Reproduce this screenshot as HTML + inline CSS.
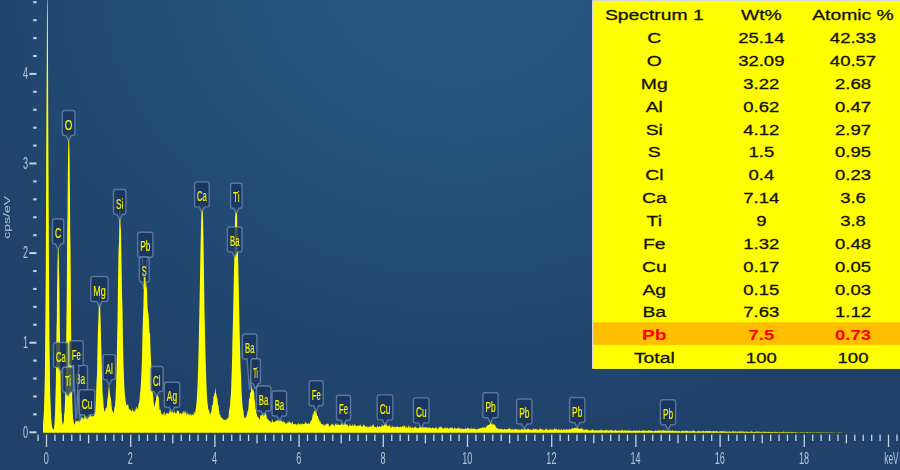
<!DOCTYPE html>
<html><head><meta charset="utf-8"><title>EDS Spectrum</title>
<style>
html,body{margin:0;padding:0;background:#20426a;}
body{width:900px;height:470px;overflow:hidden;font-family:"Liberation Sans",sans-serif;}
svg{display:block;font-family:"Liberation Sans",sans-serif;}
.lb{fill:rgba(26,52,94,0.8);stroke:rgba(135,162,196,0.58);stroke-width:1.4;}
.lt{fill:#f8f400;font-size:15.4px;text-anchor:middle;stroke:#f8f400;stroke-width:0.2;}
.tk{fill:#cad3e0;}
.al{fill:#b9c5d6;font-size:15.6px;}
.tt{fill:#141200;font-size:15.0px;stroke:#141200;stroke-width:0.28;text-anchor:middle;}
.pb{fill:#ff0000;font-weight:bold;stroke:none;}
</style></head><body>
<svg width="900" height="470" viewBox="0 0 900 470">
<defs>
<radialGradient id="bg" cx="0" cy="0" r="1" gradientUnits="userSpaceOnUse" gradientTransform="translate(458,-25) scale(560,470)">
<stop offset="0" stop-color="#275984"/><stop offset="0.45" stop-color="#244f7b"/><stop offset="0.8" stop-color="#214770"/><stop offset="1" stop-color="#20426a"/>
</radialGradient>
</defs>
<rect width="900" height="470" fill="url(#bg)"/>
<path d="M43,432.7L43.0,424.5L43.2,421.8L43.5,418.3L43.8,414.0L44.0,408.4L44.2,401.2L44.5,391.7L44.8,378.8L45.0,361.1L45.2,336.9L45.5,304.7L45.8,263.5L46.0,213.7L46.2,157.9L46.5,100.9L46.8,49.4L47.0,10.6L47.2,-3.0L47.5,-3.0L47.8,17.0L48.0,58.9L48.2,112.1L48.5,169.3L48.8,224.2L49.0,272.4L49.2,311.8L49.5,342.2L49.8,364.9L50.0,381.5L50.2,393.5L50.5,402.5L50.8,409.3L51.0,414.5L51.2,418.7L51.5,421.9L51.8,424.4L52.0,426.3L52.2,427.0L52.5,428.9L52.8,428.6L53.0,429.1L53.2,429.4L53.5,429.7L53.8,429.0L54.0,427.9L54.2,425.4L54.5,423.5L54.8,417.3L55.0,414.9L55.2,407.5L55.5,395.5L55.8,384.3L56.0,369.6L56.2,350.3L56.5,329.7L56.8,318.8L57.0,289.8L57.2,280.3L57.5,262.5L57.8,252.4L58.0,235.9L58.2,246.8L58.5,249.3L58.8,258.4L59.0,271.7L59.2,276.0L59.5,295.7L59.8,324.7L60.0,341.3L60.2,365.3L60.5,367.7L60.8,389.9L61.0,395.5L61.2,406.7L61.5,413.3L61.8,413.1L62.0,420.6L62.2,420.9L62.5,423.5L62.8,425.5L63.0,424.4L63.2,421.2L63.5,424.6L63.8,421.4L64.0,417.5L64.2,413.6L64.5,412.5L64.8,407.6L65.0,401.8L65.2,391.9L65.5,381.2L65.8,372.6L66.0,358.4L66.2,340.7L66.5,315.3L66.8,292.5L67.0,258.8L67.2,231.7L67.5,214.5L67.8,178.8L68.0,156.0L68.2,150.1L68.5,133.4L68.8,129.5L69.0,129.3L69.2,141.6L69.5,151.6L69.8,179.7L70.0,203.5L70.2,233.1L70.5,248.7L70.8,277.8L71.0,313.7L71.2,337.7L71.5,355.7L71.8,374.6L72.0,385.9L72.2,398.4L72.5,406.6L72.8,414.0L73.0,416.5L73.2,419.6L73.5,420.1L73.8,423.6L74.0,423.0L74.2,424.2L74.5,424.8L74.8,423.8L75.0,423.7L75.2,420.8L75.5,422.7L75.8,420.8L76.0,419.3L76.2,421.9L76.5,419.9L76.8,422.2L77.0,419.5L77.2,420.8L77.5,420.9L77.8,421.1L78.0,422.9L78.2,419.7L78.5,421.5L78.8,422.0L79.0,419.1L79.2,423.6L79.5,421.4L79.8,420.5L80.0,419.9L80.5,420.9L81.0,417.5L81.5,418.5L82.0,417.1L82.5,419.0L83.0,416.6L83.5,418.9L84.0,419.8L84.5,415.3L85.0,414.5L85.5,417.3L86.0,416.2L86.5,415.8L87.0,415.9L87.5,417.6L88.0,416.7L88.5,417.3L89.0,417.2L89.5,416.9L90.0,413.1L90.5,415.0L91.0,416.7L91.5,415.5L92.0,417.6L92.5,415.8L93.0,416.3L93.5,415.9L94.0,416.2L94.5,413.1L95.0,412.7L95.5,407.0L96.0,396.8L96.5,382.5L97.0,374.1L97.5,347.8L98.0,328.4L98.5,317.6L99.0,294.9L99.5,298.1L100.0,304.1L100.5,316.2L101.0,335.7L101.5,355.7L102.0,372.9L102.5,391.8L103.0,397.1L103.5,404.5L104.0,409.5L104.5,411.2L105.0,412.0L105.5,408.9L106.0,407.8L106.5,408.2L107.0,404.7L107.5,398.4L108.0,395.8L108.5,388.8L109.0,383.5L109.5,389.3L110.0,394.4L110.5,397.2L111.0,399.1L111.5,405.3L112.0,409.8L112.5,410.8L113.0,412.3L113.5,412.8L114.0,411.3L114.5,406.9L115.0,406.3L115.5,398.5L116.0,386.8L116.5,371.7L117.0,346.1L117.5,321.4L118.0,285.0L118.5,251.2L119.0,241.8L119.5,212.4L120.0,203.7L120.5,224.6L121.0,231.6L121.5,260.4L122.0,293.6L122.5,308.4L123.0,343.5L123.5,364.0L124.0,378.5L124.5,389.6L125.0,395.6L125.5,400.0L126.0,403.3L126.5,405.0L127.0,405.6L127.5,405.1L128.0,403.2L128.5,406.7L129.0,409.0L129.5,409.0L130.0,409.8L130.5,410.1L131.0,410.2L131.5,411.0L132.0,411.2L132.5,407.8L133.0,411.2L133.5,410.7L134.0,411.8L134.5,411.8L135.0,409.1L135.5,411.0L136.0,406.2L136.5,407.1L137.0,410.0L137.5,408.6L138.0,408.1L138.5,404.2L139.0,403.1L139.5,400.6L140.0,393.8L140.5,390.4L141.0,381.5L141.5,371.9L142.0,358.6L142.5,333.9L143.0,317.9L143.5,301.8L144.0,279.6L144.5,276.0L145.0,276.4L145.5,287.1L146.0,282.4L146.5,286.6L147.0,288.8L147.5,307.0L148.0,311.8L148.5,313.3L149.0,323.0L149.5,333.4L150.0,332.4L150.5,349.7L151.0,359.6L151.5,369.9L152.0,381.8L152.5,391.2L153.0,394.3L153.5,399.9L154.0,405.4L154.5,406.8L155.0,404.1L155.5,401.9L156.0,399.6L156.5,391.6L157.0,394.2L157.5,394.1L158.0,396.2L158.5,396.1L159.0,400.2L159.5,410.1L160.0,410.1L160.5,408.8L161.0,413.1L161.5,413.6L162.0,414.2L162.5,414.0L163.0,415.8L163.5,414.0L164.0,411.5L164.5,412.0L165.0,416.5L165.5,414.6L166.0,413.3L166.5,413.4L167.0,413.4L167.5,412.8L168.0,413.8L168.5,413.3L169.0,413.7L169.5,411.6L170.0,409.0L170.5,412.7L171.0,408.7L171.5,412.9L172.0,411.1L172.5,412.6L173.0,411.2L173.5,413.1L174.0,413.3L174.5,410.2L175.0,412.9L175.5,413.6L176.0,412.6L176.5,414.0L177.0,410.3L177.5,410.5L178.0,411.5L178.5,410.7L179.0,411.6L179.5,413.4L180.0,414.6L180.5,412.8L181.0,413.2L181.5,414.6L182.0,413.0L182.5,413.5L183.0,410.7L183.5,411.2L184.0,414.3L184.5,410.6L185.0,414.3L185.5,410.5L186.0,412.3L186.5,416.1L187.0,411.0L187.5,415.2L188.0,412.2L188.5,415.5L189.0,413.4L189.5,414.3L190.0,415.7L190.5,414.4L191.0,413.4L191.5,416.1L192.0,413.7L192.5,414.6L193.0,415.4L193.5,414.7L194.0,411.4L194.5,412.5L195.0,414.3L195.5,410.3L196.0,407.6L196.5,403.2L197.0,396.0L197.5,386.5L198.0,371.9L198.5,353.9L199.0,328.0L199.5,305.2L200.0,276.6L200.5,249.4L201.0,226.4L201.5,210.2L202.0,205.8L202.5,203.0L203.0,217.9L203.5,242.3L204.0,276.3L204.5,311.4L205.0,332.2L205.5,355.2L206.0,371.2L206.5,385.5L207.0,396.2L207.5,403.3L208.0,406.4L208.5,410.9L209.0,408.7L209.5,412.4L210.0,415.2L210.5,413.1L211.0,412.8L211.5,410.8L212.0,405.1L212.5,405.5L213.0,403.9L213.5,395.6L214.0,396.7L214.5,393.3L215.0,392.8L215.5,387.1L216.0,392.8L216.5,394.9L217.0,397.7L217.5,399.2L218.0,405.6L218.5,405.1L219.0,411.0L219.5,413.6L220.0,415.3L220.5,414.7L221.0,418.2L221.5,417.3L222.0,417.2L222.5,419.2L223.0,418.5L223.5,419.7L224.0,419.9L224.5,419.8L225.0,420.3L225.5,420.5L226.0,418.2L226.5,420.3L227.0,418.0L227.5,418.7L228.0,418.7L228.5,417.0L229.0,410.8L229.5,408.6L230.0,406.0L230.5,398.1L231.0,393.1L231.5,377.8L232.0,364.0L232.5,337.0L233.0,320.3L233.5,294.5L234.0,271.6L234.5,248.8L235.0,220.1L235.5,212.1L236.0,207.3L236.5,209.0L237.0,214.3L237.5,240.7L238.0,252.5L238.5,276.8L239.0,301.2L239.5,325.2L240.0,346.0L240.5,365.5L241.0,375.5L241.5,389.6L242.0,399.1L242.5,405.2L243.0,409.4L243.5,411.3L244.0,416.7L244.5,418.1L245.0,417.4L245.5,417.6L246.0,418.0L246.5,415.7L247.0,414.5L247.5,411.2L248.0,411.1L248.5,406.7L249.0,399.1L249.5,399.0L250.0,393.7L250.5,391.9L251.0,391.7L251.5,383.7L252.0,388.2L252.5,390.4L253.0,387.7L253.5,392.1L254.0,390.5L254.5,399.5L255.0,401.2L255.5,409.0L256.0,409.6L256.5,413.7L257.0,414.8L257.5,417.0L258.0,416.8L258.5,417.2L259.0,419.6L259.5,419.3L260.0,418.5L260.5,414.6L261.0,416.1L261.5,415.3L262.0,414.5L262.5,412.6L263.0,412.8L263.5,411.5L264.0,411.5L264.5,412.6L265.0,412.6L265.5,413.2L266.0,414.5L266.5,415.2L267.0,419.4L267.5,418.2L268.0,419.4L268.5,420.0L269.0,420.7L269.5,420.7L270.0,421.6L270.5,421.5L271.0,423.0L271.5,422.0L272.0,420.8L272.5,419.2L273.0,422.4L273.5,422.3L274.0,422.1L274.5,422.1L275.0,421.2L275.5,421.5L276.0,420.9L276.5,420.7L277.0,420.3L277.5,420.1L278.0,420.8L278.5,421.5L279.0,417.6L279.5,417.8L280.0,420.8L280.5,421.0L281.0,420.1L281.5,420.9L282.0,420.7L282.5,422.3L283.0,422.5L283.5,420.6L284.0,422.4L284.5,421.6L285.0,422.9L285.5,423.6L286.0,423.7L286.5,423.8L287.0,421.7L287.5,422.5L288.0,423.6L288.5,422.3L289.0,421.1L289.5,421.4L290.0,422.7L290.5,423.3L291.0,422.0L291.5,424.2L292.0,422.2L292.5,421.2L293.0,424.2L293.5,424.3L294.0,424.0L294.5,424.2L295.0,424.4L295.5,423.4L296.0,424.2L296.5,424.1L297.0,425.9L297.5,424.1L298.0,424.5L298.5,422.3L299.0,424.2L299.5,424.5L300.0,424.3L300.5,424.4L301.0,423.0L301.5,424.7L302.0,423.2L302.5,423.6L303.0,424.5L303.5,424.1L304.0,424.1L304.5,424.3L305.0,421.7L305.5,422.1L306.0,424.2L306.5,421.9L307.0,424.6L307.5,423.8L308.0,424.1L308.5,422.6L309.0,424.0L309.5,423.4L310.0,423.7L310.5,420.9L311.0,421.5L311.5,420.0L312.0,418.7L312.5,416.3L313.0,412.3L313.5,415.4L314.0,410.2L314.5,411.3L315.0,411.1L315.5,412.5L316.0,408.9L316.5,413.3L317.0,415.7L317.5,415.7L318.0,416.1L318.5,419.8L319.0,418.2L319.5,421.6L320.0,421.4L320.5,421.6L321.0,423.7L321.5,423.9L322.0,424.6L322.5,423.9L323.0,425.0L323.5,424.9L324.0,423.3L324.5,426.6L325.0,425.1L325.5,424.0L326.0,425.5L326.5,423.6L327.0,424.2L327.5,423.6L328.0,423.4L328.5,424.0L329.0,426.8L329.5,426.4L330.0,424.8L330.5,426.3L331.0,425.1L331.5,423.8L332.0,425.1L332.5,423.6L333.0,424.3L333.5,425.1L334.0,425.3L334.5,426.7L335.0,424.5L335.5,423.1L336.0,425.1L336.5,424.8L337.0,422.6L337.5,425.0L338.0,425.2L338.5,423.5L339.0,425.0L339.5,424.9L340.0,424.7L340.5,424.6L341.0,424.9L341.5,422.0L342.0,425.4L342.5,423.9L343.0,423.7L343.5,423.9L344.0,421.4L344.5,422.5L345.0,425.3L345.5,422.6L346.0,424.4L346.5,423.9L347.0,425.0L347.5,424.9L348.0,424.8L348.5,427.0L349.0,426.3L349.5,425.1L350.0,423.7L350.5,425.6L351.0,425.9L351.5,425.8L352.0,426.1L352.5,423.4L353.0,425.9L353.5,425.5L354.0,426.0L354.5,423.4L355.0,426.0L355.5,424.3L356.0,426.1L356.5,426.2L357.0,426.3L357.5,426.0L358.0,424.7L358.5,426.0L359.0,424.7L359.5,425.8L360.0,426.0L360.5,423.9L361.0,425.7L361.5,426.3L362.0,426.6L362.5,426.4L363.0,426.5L363.5,424.2L364.0,424.7L364.5,425.1L365.0,426.7L365.5,426.7L366.0,426.5L366.5,426.6L367.0,426.6L367.5,426.3L368.0,427.9L368.5,426.5L369.0,426.7L369.5,426.8L370.0,426.9L370.5,425.0L371.0,426.7L371.5,426.6L372.0,426.3L372.5,425.6L373.0,424.3L373.5,424.6L374.0,425.8L374.5,427.0L375.0,427.0L375.5,426.9L376.0,427.0L376.5,428.3L377.0,425.7L377.5,425.6L378.0,427.0L378.5,427.2L379.0,426.5L379.5,426.2L380.0,426.5L380.5,426.4L381.0,427.3L381.5,426.4L382.0,423.4L382.5,425.9L383.0,425.5L383.5,425.7L384.0,425.7L384.5,423.7L385.0,422.9L385.5,425.7L386.0,423.5L386.5,424.2L387.0,426.0L387.5,425.8L388.0,425.7L388.5,425.4L389.0,426.7L389.5,424.2L390.0,426.0L390.5,427.0L391.0,428.2L391.5,427.2L392.0,424.8L392.5,427.3L393.0,426.0L393.5,427.0L394.0,427.4L394.5,427.3L395.0,426.1L395.5,427.4L396.0,427.2L396.5,427.5L397.0,426.1L397.5,426.2L398.0,426.7L398.5,427.2L399.0,427.1L399.5,427.2L400.0,427.4L400.5,426.6L401.0,426.2L401.5,427.6L402.0,427.0L402.5,426.3L403.0,425.5L403.5,425.7L404.0,427.6L404.5,425.5L405.0,425.8L405.5,428.4L406.0,425.8L406.5,427.3L407.0,427.7L407.5,427.6L408.0,427.7L408.5,425.5L409.0,425.6L409.5,427.6L410.0,428.6L410.5,425.9L411.0,427.6L411.5,427.6L412.0,428.6L412.5,426.8L413.0,428.3L413.5,428.5L414.0,426.6L414.5,427.6L415.0,427.4L415.5,425.8L416.0,428.2L416.5,427.7L417.0,427.2L417.5,429.1L418.0,427.3L418.5,428.5L419.0,427.5L419.5,426.9L420.0,426.3L420.5,427.5L421.0,427.6L421.5,425.2L422.0,427.3L422.5,427.1L423.0,427.6L423.5,427.6L424.0,426.7L424.5,427.6L425.0,427.8L425.5,427.0L426.0,427.4L426.5,427.3L427.0,427.4L427.5,427.4L428.0,428.2L428.5,427.1L429.0,428.6L429.5,427.3L430.0,427.8L430.5,427.1L431.0,429.1L431.5,428.3L432.0,427.8L432.5,427.0L433.0,428.3L433.5,428.2L434.0,428.0L434.5,428.4L435.0,428.4L435.5,426.7L436.0,427.9L436.5,427.0L437.0,428.4L437.5,429.7L438.0,428.8L438.5,428.6L439.0,427.2L439.5,427.3L440.0,426.6L440.5,426.8L441.0,428.0L441.5,426.6L442.0,427.3L442.5,428.6L443.0,428.2L443.5,428.4L444.0,428.6L444.5,428.5L445.0,426.6L445.5,428.4L446.0,427.4L446.5,428.6L447.0,428.3L447.5,426.9L448.0,428.6L448.5,428.7L449.0,428.6L449.5,428.3L450.0,427.9L450.5,427.3L451.0,428.6L451.5,427.6L452.0,427.3L452.5,427.5L453.0,428.8L453.5,428.8L454.0,429.0L454.5,427.0L455.0,428.1L455.5,428.8L456.0,427.9L456.5,428.9L457.0,428.3L457.5,428.4L458.0,427.3L458.5,428.7L459.0,427.2L459.5,428.1L460.0,428.8L460.5,428.9L461.0,428.7L461.5,428.7L462.0,428.3L462.5,428.8L463.0,428.9L463.5,428.9L464.0,428.9L464.5,429.0L465.0,428.9L465.5,427.7L466.0,428.3L466.5,429.0L467.0,428.8L467.5,427.0L468.0,428.9L468.5,427.8L469.0,428.5L469.5,428.8L470.0,428.7L470.5,429.8L471.0,426.9L471.5,428.7L472.0,429.0L472.5,428.4L473.0,429.0L473.5,428.3L474.0,429.1L474.5,428.5L475.0,428.8L475.5,429.5L476.0,428.3L476.5,430.3L477.0,429.0L477.5,429.1L478.0,429.1L478.5,428.8L479.0,428.7L479.5,428.1L480.0,429.1L480.5,427.6L481.0,428.6L481.5,427.4L482.0,428.7L482.5,427.1L483.0,427.1L483.5,428.6L484.0,426.5L484.5,428.1L485.0,427.3L485.5,428.2L486.0,426.6L486.5,426.7L487.0,426.2L487.5,425.2L488.0,425.0L488.5,424.9L489.0,424.6L489.5,424.3L490.0,424.6L490.5,421.2L491.0,423.5L491.5,424.4L492.0,422.0L492.5,425.0L493.0,424.3L493.5,423.5L494.0,425.7L494.5,423.9L495.0,424.9L495.5,425.7L496.0,427.6L496.5,427.8L497.0,428.5L497.5,428.7L498.0,427.7L498.5,429.1L499.0,429.2L499.5,429.3L500.0,428.3L500.5,429.5L501.0,428.7L501.5,428.4L502.0,429.5L502.5,429.6L503.0,429.6L503.5,429.6L504.0,429.1L504.5,429.1L505.0,428.7L505.5,430.1L506.0,429.0L506.5,428.9L507.0,429.6L507.5,429.5L508.0,428.8L508.5,428.7L509.0,428.4L509.5,428.8L510.0,427.9L510.5,429.4L511.0,429.7L511.5,429.5L512.0,428.4L512.5,429.6L513.0,429.4L513.5,429.7L514.0,429.4L514.5,429.5L515.0,429.3L515.5,429.1L516.0,428.9L516.5,428.8L517.0,430.4L517.5,429.7L518.0,428.7L518.5,429.7L519.0,429.4L519.5,429.4L520.0,430.6L520.5,429.5L521.0,429.5L521.5,429.1L522.0,429.1L522.5,429.5L523.0,429.4L523.5,429.7L524.0,428.9L524.5,427.8L525.0,428.8L525.5,429.4L526.0,429.4L526.5,429.5L527.0,429.5L527.5,429.1L528.0,428.2L528.5,429.0L529.0,429.3L529.5,429.7L530.0,429.7L530.5,429.2L531.0,429.8L531.5,430.2L532.0,429.6L532.5,429.7L533.0,429.6L533.5,428.1L534.0,429.8L534.5,429.5L535.0,428.8L535.5,429.5L536.0,428.6L536.5,429.9L537.0,429.0L537.5,429.9L538.0,429.8L538.5,429.9L539.0,429.5L539.5,428.8L540.0,429.6L540.5,428.4L541.0,428.6L541.5,429.8L542.0,429.7L542.5,429.0L543.0,429.5L543.5,430.7L544.0,429.7L544.5,430.6L545.0,429.7L545.5,428.5L546.0,429.7L546.5,428.3L547.0,428.9L547.5,429.7L548.0,429.9L548.5,429.9L549.0,429.9L549.5,429.7L550.0,429.8L550.5,428.6L551.0,429.6L551.5,429.7L552.0,429.5L552.5,429.8L553.0,429.1L553.5,429.9L554.0,429.7L554.5,428.2L555.0,428.2L555.5,429.6L556.0,429.1L556.5,429.0L557.0,429.8L557.5,429.9L558.0,429.6L558.5,428.8L559.0,429.9L559.5,429.7L560.0,429.5L560.5,429.9L561.0,429.3L561.5,428.8L562.0,430.4L562.5,430.0L563.0,429.7L563.5,428.5L564.0,429.9L564.5,429.7L565.0,429.4L565.5,429.8L566.0,429.8L566.5,428.9L567.0,428.9L567.5,429.8L568.0,429.9L568.5,429.5L569.0,429.2L569.5,428.6L570.0,429.9L570.5,429.2L571.0,429.2L571.5,428.1L572.0,429.5L572.5,427.0L573.0,429.5L573.5,428.1L574.0,428.6L574.5,428.0L575.0,427.4L575.5,428.1L576.0,428.0L576.5,427.4L577.0,429.5L577.5,427.0L578.0,428.3L578.5,428.6L579.0,428.7L579.5,428.7L580.0,429.0L580.5,428.4L581.0,428.2L581.5,429.0L582.0,428.1L582.5,428.9L583.0,429.7L583.5,429.6L584.0,430.0L584.5,430.2L585.0,429.0L585.5,430.3L586.0,429.1L586.5,429.6L587.0,429.6L587.5,430.3L588.0,429.7L588.5,430.3L589.0,429.9L589.5,430.9L590.0,430.4L590.5,429.8L591.0,430.4L591.5,430.5L592.0,429.3L592.5,429.7L593.0,429.6L593.5,430.0L594.0,430.5L594.5,430.4L595.0,430.5L595.5,430.6L596.0,430.1L596.5,430.6L597.0,430.6L597.5,429.9L598.0,430.5L598.5,430.7L599.0,430.5L599.5,430.0L600.0,430.1L600.5,430.8L601.0,429.3L601.5,430.2L602.0,429.6L602.5,430.4L603.0,431.1L603.5,430.4L604.0,430.2L604.5,430.4L605.0,430.0L605.5,430.3L606.0,429.9L606.5,430.6L607.0,429.6L607.5,430.6L608.0,430.7L608.5,430.3L609.0,430.7L609.5,430.4L610.0,429.9L610.5,430.5L611.0,430.3L611.5,429.4L612.0,430.6L612.5,430.7L613.0,430.7L613.5,430.7L614.0,429.9L614.5,430.6L615.0,430.7L615.5,430.0L616.0,429.4L616.5,430.8L617.0,431.0L617.5,430.8L618.0,430.8L618.5,430.6L619.0,430.8L619.5,430.0L620.0,430.9L620.5,430.4L621.0,431.2L621.5,430.2L622.0,429.6L622.5,429.5L623.0,430.8L623.5,430.8L624.0,430.8L624.5,430.3L625.0,429.8L625.5,431.0L626.0,430.6L626.5,430.8L627.0,430.8L627.5,430.8L628.0,429.5L628.5,431.0L629.0,430.8L629.5,430.2L630.0,430.8L630.5,430.6L631.0,430.8L631.5,430.9L632.0,430.9L632.5,430.9L633.0,430.6L633.5,430.8L634.0,430.4L634.5,431.1L635.0,430.0L635.5,430.9L636.0,430.9L636.5,429.9L637.0,430.9L637.5,430.8L638.0,430.3L638.5,431.0L639.0,431.0L639.5,429.8L640.0,430.9L640.5,431.0L641.0,430.9L641.5,430.8L642.0,430.9L642.5,429.9L643.0,430.8L643.5,430.7L644.0,430.6L644.5,430.0L645.0,431.0L645.5,431.0L646.0,430.5L646.5,430.7L647.0,431.5L647.5,430.3L648.0,430.9L648.5,429.7L649.0,430.7L649.5,430.9L650.0,430.0L650.5,430.2L651.0,430.9L651.5,430.2L652.0,431.0L652.5,431.0L653.0,431.1L653.5,431.6L654.0,431.1L654.5,431.1L655.0,431.1L655.5,430.1L656.0,430.8L656.5,431.1L657.0,431.1L657.5,430.5L658.0,430.8L658.5,430.0L659.0,431.0L659.5,430.6L660.0,431.1L660.5,430.2L661.0,429.9L661.5,431.4L662.0,430.0L662.5,430.8L663.0,430.2L663.5,430.0L664.0,430.9L664.5,430.2L665.0,430.9L665.5,430.3L666.0,430.9L666.5,430.8L667.0,430.3L667.5,430.8L668.0,430.9L668.5,430.8L669.0,430.8L669.5,429.9L670.0,430.9L670.5,430.3L671.0,431.2L671.5,430.7L672.0,431.0L672.5,429.8L673.0,431.1L673.5,431.2L674.0,430.5L674.5,431.2L675.0,430.6L675.5,431.1L676.0,431.1L676.5,430.6L677.0,431.4L677.5,431.3L678.0,431.3L678.5,430.4L679.0,431.2L679.5,431.0L680.0,431.3L680.5,432.0L681.0,430.8L681.5,431.0L682.0,431.2L682.5,430.4L683.0,430.7L683.5,431.3L684.0,431.3L684.5,431.2L685.0,430.3L685.5,431.1L686.0,431.3L686.5,430.9L687.0,430.5L687.5,431.2L688.0,430.6L688.5,431.4L689.0,431.6L689.5,430.6L690.0,431.3L690.5,431.2L691.0,431.2L691.5,431.4L692.0,430.3L692.5,431.1L693.0,431.4L693.5,430.3L694.0,430.8L694.5,431.1L695.0,431.4L695.5,431.2L696.0,431.4L696.5,431.4L697.0,431.4L697.5,431.4L698.0,430.5L698.5,431.3L699.0,430.8L699.5,431.3L700.0,431.4L700.5,431.5L701.0,431.2L701.5,431.3L702.0,431.5L702.5,430.8L703.0,431.5L703.5,430.4L704.0,431.2L704.5,431.5L705.0,430.9L705.5,430.9L706.0,431.4L706.5,430.7L707.0,431.1L707.5,431.5L708.0,430.7L708.5,431.5L709.0,430.6L709.5,431.1L710.0,430.9L710.5,431.5L711.0,430.7L711.5,431.5L712.0,431.3L712.5,431.5L713.0,431.2L713.5,431.1L714.0,431.0L714.5,431.5L715.0,431.6L715.5,430.9L716.0,431.6L716.5,431.1L717.0,430.6L717.5,432.0L718.0,431.1L718.5,431.9L719.0,431.5L719.5,431.2L720.0,431.4L720.5,430.8L721.0,432.1L721.5,431.1L722.0,431.0L722.5,431.6L723.0,431.6L723.5,431.1L724.0,431.6L724.5,431.6L725.0,431.2L725.5,431.8L726.0,431.5L726.5,431.6L727.0,431.6L727.5,431.8L728.0,431.7L728.5,431.7L729.0,431.5L729.5,431.1L730.0,431.7L730.5,431.7L731.0,431.7L731.5,431.5L732.0,431.7L732.5,431.2L733.0,431.4L733.5,430.8L734.0,431.7L734.5,431.7L735.0,431.4L735.5,431.4L736.0,431.3L736.5,432.0L737.0,431.5L737.5,431.7L738.0,430.9L738.5,431.7L739.0,431.5L739.5,431.7L740.0,431.2L740.5,431.5L741.0,431.4L741.5,431.6L742.0,431.4L742.5,431.2L743.0,431.8L743.5,431.6L744.0,431.8L744.5,431.8L745.0,431.7L745.5,431.8L746.0,431.7L746.5,430.9L747.0,431.9L747.5,432.1L748.0,431.7L748.5,431.8L749.0,431.8L749.5,431.7L750.0,431.9L750.5,431.9L751.0,431.2L751.5,431.6L752.0,431.1L752.5,431.9L753.0,431.9L753.5,431.7L754.0,431.9L754.5,431.9L755.0,431.9L755.5,431.8L756.0,431.7L756.5,431.2L757.0,431.8L757.5,431.2L758.0,432.3L758.5,432.0L759.0,431.3L759.5,431.7L760.0,431.9L760.5,431.9L761.0,432.3L761.5,431.5L762.0,432.2L762.5,432.2L763.0,431.2L763.5,432.1L764.0,431.6L764.5,431.9L765.0,431.5L765.5,432.2L766.0,431.7L766.5,432.0L767.0,431.7L767.5,432.1L768.0,432.1L768.5,432.1L769.0,431.6L769.5,432.0L770.0,431.9L770.5,431.9L771.0,431.7L771.5,432.1L772.0,432.0L772.5,432.1L773.0,432.1L773.5,432.5L774.0,431.5L774.5,432.2L775.0,432.2L775.5,431.7L776.0,432.1L776.5,432.1L777.0,432.2L777.5,432.1L778.0,432.2L778.5,432.2L779.0,432.2L779.5,432.1L780.0,431.8L780.5,432.2L781.0,432.2L781.5,432.2L782.0,432.2L782.5,432.0L783.0,432.1L783.5,431.6L784.0,431.8L784.5,431.9L785.0,432.3L785.5,432.3L786.0,432.2L786.5,432.2L787.0,431.6L787.5,432.1L788.0,432.3L788.5,432.3L789.0,431.8L789.5,432.3L790.0,432.3L790.5,432.6L791.0,431.9L791.5,431.9L792.0,432.3L792.5,432.1L793.0,432.3L793.5,432.3L794.0,432.0L794.5,432.6L795.0,432.1L795.5,432.2L796.0,432.4L796.5,431.9L797.0,432.3L797.5,432.4L798.0,432.4L798.5,432.4L799.0,432.4L799.5,432.4L800.0,432.2L800.5,432.2L801.0,432.2L801.5,432.4L802.0,432.2L802.5,432.4L803.0,432.4L803.5,432.4L804.0,432.3L804.5,432.3L805.0,432.4L805.5,432.5L806.0,432.3L806.5,432.4L807.0,432.2L807.5,432.0L808.0,432.2L808.5,432.5L809.0,432.5L809.5,432.5L810.0,432.3L810.5,432.3L811.0,432.6L811.5,432.5L812.0,432.2L812.5,432.2L813.0,432.5L813.5,432.5L814.0,432.3L814.5,432.6L815.0,432.5L815.5,432.4L816.0,432.5L816.5,432.3L817.0,432.4L817.5,432.3L818.0,432.5L818.5,432.3L819.0,432.5L819.5,432.6L820.0,432.3L820.5,432.2L821.0,432.6L821.5,432.6L822.0,432.3L822.5,432.6L823.0,432.6L823.5,432.6L824.0,432.6L824.5,432.5L825.0,432.6L825.5,432.4L826.0,432.6L826.5,432.6L827.0,432.3L827.5,432.5L828.0,432.4L828.5,432.5L829.0,432.6L829.5,432.6L830.0,432.5L830.5,432.5L831.0,432.4L831.5,432.5L832.0,432.6L832.5,432.4L833.0,432.6L833.5,432.5L834.0,432.6L834.5,432.6L835.0,432.7L835.5,432.7L836.0,432.6L836.5,432.6L837.0,432.7L837.5,432.7L838.0,432.5L838.5,432.6L839.0,432.5L839.5,432.6L840.0,432.6L840.5,432.5L841.0,432.6L841.5,432.6L842.0,432.7L842.5,432.7L843.0,432.7L843.5,432.7L844.0,432.7L844.5,432.6L845.0,432.7L845.5,432.7L846.0,432.7L846.5,432.7L847.0,432.6L847.5,432.7L848.0,432.7L848.5,432.7L849.0,432.7L849.5,432.7L850.0,432.6L850.5,432.7L851.0,432.6L851.5,432.7L852.0,432.7L852.5,432.7L853.0,432.7L853.5,432.6L854.0,432.7L854.5,432.7L855.0,432.7L855.5,432.7L856.0,432.7L856.5,432.7L857.0,432.7L857.5,432.7L858.0,432.7L858.5,432.7L859.0,432.7L859.5,432.7L860.0,432.7L860.5,432.7L861.0,432.7L861.5,432.7L862.0,432.7L862.5,432.7L863.0,432.7L863.5,432.7L864.0,432.7L864.5,432.7L865.0,432.7L865.5,432.7L866.0,432.7L866.5,432.7L867.0,432.7L867.5,432.7L868.0,432.7L868.5,432.7L869.0,432.7L869.5,432.7L870.0,432.7L870.5,432.7L871.0,432.7L871.5,432.7L872.0,432.7L872.5,432.7L873.0,432.7L873.5,432.7L874.0,432.7L874.5,432.7L875.0,432.7L875.5,432.7L876.0,432.7L876.5,432.7L877.0,432.7L877.5,432.7L878.0,432.7L878.5,432.7L879.0,432.7L879.5,432.7L880.0,432.7L880.5,432.7L881.0,432.7L881.5,432.7L882.0,432.7L882.5,432.7L883.0,432.7L883.5,432.7L884.0,432.7L884.5,432.7L885.0,432.7L885.5,432.7L886.0,432.7L886.5,432.7L887.0,432.7L887.5,432.7L888.0,432.7L888.5,432.7L889.0,432.7L889.5,432.7L890.0,432.7L890.5,432.7L891.0,432.7L891.5,432.7L892.0,432.7L892.5,432.7L893.0,432.7L893.5,432.7L894.0,432.7L894.5,432.7L895.0,432.7L895.5,432.7L896.0,432.7L896.5,432.7L897.0,432.7L897.5,432.7L898.0,432.7L898.5,432.7L899.0,432.7L899.5,432.7L900.0,432.7L900,432.7 Z" fill="#ffff00"/>
<g opacity="0.999">
<path d="M55.8,342.5 H66.0 Q68.2,342.5 68.2,344.7 V365.3 Q68.2,367.5 66.0,367.5 H63.5 L61.2,372.2 L60.6,372.2 L58.3,367.5 H55.8 Q53.5,367.5 53.5,365.3 V344.7 Q53.5,342.5 55.8,342.5 Z" class="lb"/><text class="lt" transform="translate(60.9,361.5) scale(0.493,1)">Ca</text>
<path d="M75.2,365.4 H85.2 Q87.5,365.4 87.5,367.59999999999997 V388.2 Q87.5,390.4 85.2,390.4 H82.8 L80.5,420 L79.9,420 L77.6,390.4 H75.2 Q73.0,390.4 73.0,388.2 V367.59999999999997 Q73.0,365.4 75.2,365.4 Z" class="lb"/><text class="lt" transform="translate(80.2,384.4) scale(0.504,1)">Ba</text>
<path d="M71.4,340.8 H81.0 Q83.2,340.8 83.2,343.0 V363.6 Q83.2,365.8 81.0,365.8 H78.8 L76.5,418 L75.9,418 L73.6,365.8 H71.4 Q69.2,365.8 69.2,363.6 V343.0 Q69.2,340.8 71.4,340.8 Z" class="lb"/><text class="lt" transform="translate(76.2,359.8) scale(0.501,1)">Fe</text>
<path d="M64.7,367.2 H71.1 Q73.3,367.2 73.3,369.4 V390.0 Q73.3,392.2 71.1,392.2 H70.5 L68.2,396 L67.6,396 L65.3,392.2 H64.7 Q62.5,392.2 62.5,390.0 V369.4 Q62.5,367.2 64.7,367.2 Z" class="lb"/><text class="lt" transform="translate(67.9,386.2) scale(0.473,1)">Ti</text>
<path d="M81.4,389.7 H92.6 Q94.8,389.7 94.8,391.9 V412.5 Q94.8,414.7 92.6,414.7 H89.6 L87.3,419 L86.7,419 L84.4,414.7 H81.4 Q79.2,414.7 79.2,412.5 V391.9 Q79.2,389.7 81.4,389.7 Z" class="lb"/><text class="lt" transform="translate(87.0,408.7) scale(0.538,1)">Cu</text>
<path d="M64.5,110.5 H72.7 Q74.9,110.5 74.9,112.7 V133.3 Q74.9,135.5 72.7,135.5 H71.2 L68.9,140.2 L68.3,140.2 L66.0,135.5 H64.5 Q62.3,135.5 62.3,133.3 V112.7 Q62.3,110.5 64.5,110.5 Z" class="lb"/><text class="lt" transform="translate(68.6,129.5) scale(0.634,1)">O</text>
<path d="M54.7,219 H61.5 Q63.7,219 63.7,221.2 V241.8 Q63.7,244.0 61.5,244.0 H60.7 L58.4,248.7 L57.8,248.7 L55.5,244.0 H54.7 Q52.5,244.0 52.5,241.8 V221.2 Q52.5,219 54.7,219 Z" class="lb"/><text class="lt" transform="translate(58.1,238.0) scale(0.557,1)">C</text>
<path d="M115.7,189.5 H123.7 Q125.9,189.5 125.9,191.7 V212.3 Q125.9,214.5 123.7,214.5 H122.3 L120.0,219.2 L119.4,219.2 L117.1,214.5 H115.7 Q113.5,214.5 113.5,212.3 V191.7 Q113.5,189.5 115.7,189.5 Z" class="lb"/><text class="lt" transform="translate(119.7,208.5) scale(0.540,1)">Si</text>
<path d="M196.8,181.9 H207.1 Q209.2,181.9 209.2,184.1 V204.70000000000002 Q209.2,206.9 207.1,206.9 H204.5 L202.2,211.6 L201.6,211.6 L199.3,206.9 H196.8 Q194.6,206.9 194.6,204.70000000000002 V184.1 Q194.6,181.9 196.8,181.9 Z" class="lb"/><text class="lt" transform="translate(201.9,200.9) scale(0.493,1)">Ca</text>
<path d="M232.8,183.3 H239.9 Q242.1,183.3 242.1,185.5 V206.10000000000002 Q242.1,208.3 239.9,208.3 H238.9 L236.6,213.0 L236.0,213.0 L233.7,208.3 H232.8 Q230.6,208.3 230.6,206.10000000000002 V185.5 Q230.6,183.3 232.8,183.3 Z" class="lb"/><text class="lt" transform="translate(236.3,202.3) scale(0.530,1)">Ti</text>
<path d="M139.9,232.3 H150.7 Q152.9,232.3 152.9,234.5 V255.10000000000002 Q152.9,257.3 150.7,257.3 H139.9 Q137.7,257.3 137.7,255.10000000000002 V234.5 Q137.7,232.3 139.9,232.3 Z" class="lb"/><text class="lt" transform="translate(145.3,251.3) scale(0.542,1)">Pb</text>
<path d="M141.5,257 H146.9 Q149.1,257 149.1,259.2 V279.8 Q149.1,282.0 146.9,282.0 H146.8 L144.5,286.7 L143.9,286.7 L141.6,282.0 H141.5 Q139.3,282.0 139.3,279.8 V259.2 Q139.3,257 141.5,257 Z" class="lb"/><text class="lt" transform="translate(144.2,276.0) scale(0.467,1)">S</text>
<path d="M229.6,227 H239.8 Q241.9,227 241.9,229.2 V249.8 Q241.9,252.0 239.8,252.0 H237.3 L235.0,256.7 L234.4,256.7 L232.1,252.0 H229.6 Q227.4,252.0 227.4,249.8 V229.2 Q227.4,227 229.6,227 Z" class="lb"/><text class="lt" transform="translate(234.7,246.0) scale(0.504,1)">Ba</text>
<path d="M92.9,276.5 H105.9 Q108.1,276.5 108.1,278.7 V299.3 Q108.1,301.5 105.9,301.5 H102.0 L99.7,306.2 L99.1,306.2 L96.8,301.5 H92.9 Q90.7,301.5 90.7,299.3 V278.7 Q90.7,276.5 92.9,276.5 Z" class="lb"/><text class="lt" transform="translate(99.4,295.5) scale(0.580,1)">Mg</text>
<path d="M105.2,354.6 H113.2 Q115.4,354.6 115.4,356.8 V377.40000000000003 Q115.4,379.6 113.2,379.6 H111.8 L109.5,384.3 L108.9,384.3 L106.6,379.6 H105.2 Q103.0,379.6 103.0,377.40000000000003 V356.8 Q103.0,354.6 105.2,354.6 Z" class="lb"/><text class="lt" transform="translate(109.2,373.6) scale(0.533,1)">Al</text>
<path d="M152.8,366.5 H160.9 Q163.1,366.5 163.1,368.7 V389.3 Q163.1,391.5 160.9,391.5 H159.4 L157.1,396.2 L156.5,396.2 L154.2,391.5 H152.8 Q150.6,391.5 150.6,389.3 V368.7 Q150.6,366.5 152.8,366.5 Z" class="lb"/><text class="lt" transform="translate(156.8,385.5) scale(0.516,1)">Cl</text>
<path d="M166.5,382.2 H177.5 Q179.7,382.2 179.7,384.4 V405.0 Q179.7,407.2 177.5,407.2 H174.6 L172.3,411.9 L171.7,411.9 L169.4,407.2 H166.5 Q164.3,407.2 164.3,405.0 V384.4 Q164.3,382.2 166.5,382.2 Z" class="lb"/><text class="lt" transform="translate(172.0,401.2) scale(0.547,1)">Ag</text>
<path d="M244.6,334 H254.8 Q256.9,334 256.9,336.2 V356.8 Q256.9,359.0 254.8,359.0 H252.3 L250.0,389 L249.4,389 L247.1,359.0 H244.6 Q242.4,359.0 242.4,356.8 V336.2 Q242.4,334 244.6,334 Z" class="lb"/><text class="lt" transform="translate(249.7,353.0) scale(0.504,1)">Ba</text>
<path d="M253.0,358.7 H258.2 Q260.4,358.7 260.4,360.9 V381.5 Q260.4,383.7 258.2,383.7 H258.2 L255.9,388.4 L255.3,388.4 L253.0,383.7 H253.0 Q250.8,383.7 250.8,381.5 V360.9 Q250.8,358.7 253.0,358.7 Z" class="lb"/><text class="lt" transform="translate(255.6,377.7) scale(0.375,1)">Ti</text>
<path d="M258.6,386 H268.7 Q270.9,386 270.9,388.2 V408.8 Q270.9,411.0 268.7,411.0 H266.2 L263.9,415.7 L263.3,415.7 L261.0,411.0 H258.6 Q256.4,411.0 256.4,408.8 V388.2 Q256.4,386 258.6,386 Z" class="lb"/><text class="lt" transform="translate(263.6,405.0) scale(0.504,1)">Ba</text>
<path d="M274.3,391 H284.4 Q286.6,391 286.6,393.2 V413.8 Q286.6,416.0 284.4,416.0 H282.0 L279.7,420.7 L279.1,420.7 L276.8,416.0 H274.3 Q272.1,416.0 272.1,413.8 V393.2 Q272.1,391 274.3,391 Z" class="lb"/><text class="lt" transform="translate(279.4,410.0) scale(0.504,1)">Ba</text>
<path d="M311.4,380.8 H321.0 Q323.2,380.8 323.2,383.0 V403.6 Q323.2,405.8 321.0,405.8 H318.8 L316.5,410.5 L315.9,410.5 L313.6,405.8 H311.4 Q309.2,405.8 309.2,403.6 V383.0 Q309.2,380.8 311.4,380.8 Z" class="lb"/><text class="lt" transform="translate(316.2,399.8) scale(0.501,1)">Fe</text>
<path d="M338.7,395.2 H348.3 Q350.5,395.2 350.5,397.4 V418.0 Q350.5,420.2 348.3,420.2 H346.1 L343.8,424.9 L343.2,424.9 L340.9,420.2 H338.7 Q336.5,420.2 336.5,418.0 V397.4 Q336.5,395.2 338.7,395.2 Z" class="lb"/><text class="lt" transform="translate(343.5,414.2) scale(0.501,1)">Fe</text>
<path d="M379.4,394.9 H390.6 Q392.8,394.9 392.8,397.09999999999997 V417.7 Q392.8,419.9 390.6,419.9 H387.6 L385.3,424.59999999999997 L384.7,424.59999999999997 L382.4,419.9 H379.4 Q377.2,419.9 377.2,417.7 V397.09999999999997 Q377.2,394.9 379.4,394.9 Z" class="lb"/><text class="lt" transform="translate(385.0,413.9) scale(0.538,1)">Cu</text>
<path d="M415.6,397.9 H426.8 Q429.0,397.9 429.0,400.09999999999997 V420.7 Q429.0,422.9 426.8,422.9 H423.8 L421.5,427.59999999999997 L420.9,427.59999999999997 L418.6,422.9 H415.6 Q413.4,422.9 413.4,420.7 V400.09999999999997 Q413.4,397.9 415.6,397.9 Z" class="lb"/><text class="lt" transform="translate(421.2,416.9) scale(0.538,1)">Cu</text>
<path d="M485.1,392.8 H495.9 Q498.1,392.8 498.1,395.0 V415.6 Q498.1,417.8 495.9,417.8 H493.1 L490.8,422.5 L490.2,422.5 L487.9,417.8 H485.1 Q482.9,417.8 482.9,415.6 V395.0 Q482.9,392.8 485.1,392.8 Z" class="lb"/><text class="lt" transform="translate(490.5,411.8) scale(0.542,1)">Pb</text>
<path d="M518.9,399 H529.7 Q531.9,399 531.9,401.2 V421.8 Q531.9,424.0 529.7,424.0 H526.9 L524.6,428.7 L524.0,428.7 L521.7,424.0 H518.9 Q516.7,424.0 516.7,421.8 V401.2 Q516.7,399 518.9,399 Z" class="lb"/><text class="lt" transform="translate(524.3,418.0) scale(0.542,1)">Pb</text>
<path d="M571.8,397.5 H582.6 Q584.8,397.5 584.8,399.7 V420.3 Q584.8,422.5 582.6,422.5 H579.8 L577.5,427.2 L576.9,427.2 L574.6,422.5 H571.8 Q569.6,422.5 569.6,420.3 V399.7 Q569.6,397.5 571.8,397.5 Z" class="lb"/><text class="lt" transform="translate(577.2,416.5) scale(0.542,1)">Pb</text>
<path d="M662.6,399.8 H673.4 Q675.6,399.8 675.6,402.0 V422.6 Q675.6,424.8 673.4,424.8 H670.6 L668.3,429.5 L667.7,429.5 L665.4,424.8 H662.6 Q660.4,424.8 660.4,422.6 V402.0 Q660.4,399.8 662.6,399.8 Z" class="lb"/><text class="lt" transform="translate(668.0,418.8) scale(0.542,1)">Pb</text>
<path d="M142.2,257.5 L144.1,283.5 M147.4,257.5 L144.9,283.5" fill="none" stroke="rgba(140,168,200,0.45)" stroke-width="0.9"/><path d="M144.0,277 L145.2,277 L145.9,289 L143.5,289 Z" fill="#f4f000"/>

<rect x="37.43" y="434.6" width="1.3" height="6.4" class="tk"/><rect x="45.85" y="434.6" width="1.3" height="12.4" class="tk"/><rect x="54.27" y="434.6" width="1.3" height="6.4" class="tk"/><rect x="62.69" y="434.6" width="1.3" height="6.4" class="tk"/><rect x="71.11" y="434.6" width="1.3" height="6.4" class="tk"/><rect x="79.53" y="434.6" width="1.3" height="6.4" class="tk"/><rect x="87.95" y="434.6" width="1.3" height="8.8" class="tk"/><rect x="96.37" y="434.6" width="1.3" height="6.4" class="tk"/><rect x="104.79" y="434.6" width="1.3" height="6.4" class="tk"/><rect x="113.21" y="434.6" width="1.3" height="6.4" class="tk"/><rect x="121.63" y="434.6" width="1.3" height="6.4" class="tk"/><rect x="130.05" y="434.6" width="1.3" height="12.4" class="tk"/><rect x="138.47" y="434.6" width="1.3" height="6.4" class="tk"/><rect x="146.89" y="434.6" width="1.3" height="6.4" class="tk"/><rect x="155.31" y="434.6" width="1.3" height="6.4" class="tk"/><rect x="163.73" y="434.6" width="1.3" height="6.4" class="tk"/><rect x="172.15" y="434.6" width="1.3" height="8.8" class="tk"/><rect x="180.57" y="434.6" width="1.3" height="6.4" class="tk"/><rect x="188.99" y="434.6" width="1.3" height="6.4" class="tk"/><rect x="197.41" y="434.6" width="1.3" height="6.4" class="tk"/><rect x="205.83" y="434.6" width="1.3" height="6.4" class="tk"/><rect x="214.25" y="434.6" width="1.3" height="12.4" class="tk"/><rect x="222.67" y="434.6" width="1.3" height="6.4" class="tk"/><rect x="231.09" y="434.6" width="1.3" height="6.4" class="tk"/><rect x="239.51" y="434.6" width="1.3" height="6.4" class="tk"/><rect x="247.93" y="434.6" width="1.3" height="6.4" class="tk"/><rect x="256.35" y="434.6" width="1.3" height="8.8" class="tk"/><rect x="264.77" y="434.6" width="1.3" height="6.4" class="tk"/><rect x="273.19" y="434.6" width="1.3" height="6.4" class="tk"/><rect x="281.61" y="434.6" width="1.3" height="6.4" class="tk"/><rect x="290.03" y="434.6" width="1.3" height="6.4" class="tk"/><rect x="298.45" y="434.6" width="1.3" height="12.4" class="tk"/><rect x="306.87" y="434.6" width="1.3" height="6.4" class="tk"/><rect x="315.29" y="434.6" width="1.3" height="6.4" class="tk"/><rect x="323.71" y="434.6" width="1.3" height="6.4" class="tk"/><rect x="332.13" y="434.6" width="1.3" height="6.4" class="tk"/><rect x="340.55" y="434.6" width="1.3" height="8.8" class="tk"/><rect x="348.97" y="434.6" width="1.3" height="6.4" class="tk"/><rect x="357.39" y="434.6" width="1.3" height="6.4" class="tk"/><rect x="365.81" y="434.6" width="1.3" height="6.4" class="tk"/><rect x="374.23" y="434.6" width="1.3" height="6.4" class="tk"/><rect x="382.65" y="434.6" width="1.3" height="12.4" class="tk"/><rect x="391.07" y="434.6" width="1.3" height="6.4" class="tk"/><rect x="399.49" y="434.6" width="1.3" height="6.4" class="tk"/><rect x="407.91" y="434.6" width="1.3" height="6.4" class="tk"/><rect x="416.33" y="434.6" width="1.3" height="6.4" class="tk"/><rect x="424.75" y="434.6" width="1.3" height="8.8" class="tk"/><rect x="433.17" y="434.6" width="1.3" height="6.4" class="tk"/><rect x="441.59" y="434.6" width="1.3" height="6.4" class="tk"/><rect x="450.01" y="434.6" width="1.3" height="6.4" class="tk"/><rect x="458.43" y="434.6" width="1.3" height="6.4" class="tk"/><rect x="466.85" y="434.6" width="1.3" height="12.4" class="tk"/><rect x="475.27" y="434.6" width="1.3" height="6.4" class="tk"/><rect x="483.69" y="434.6" width="1.3" height="6.4" class="tk"/><rect x="492.11" y="434.6" width="1.3" height="6.4" class="tk"/><rect x="500.53" y="434.6" width="1.3" height="6.4" class="tk"/><rect x="508.95" y="434.6" width="1.3" height="8.8" class="tk"/><rect x="517.37" y="434.6" width="1.3" height="6.4" class="tk"/><rect x="525.79" y="434.6" width="1.3" height="6.4" class="tk"/><rect x="534.21" y="434.6" width="1.3" height="6.4" class="tk"/><rect x="542.63" y="434.6" width="1.3" height="6.4" class="tk"/><rect x="551.05" y="434.6" width="1.3" height="12.4" class="tk"/><rect x="559.47" y="434.6" width="1.3" height="6.4" class="tk"/><rect x="567.89" y="434.6" width="1.3" height="6.4" class="tk"/><rect x="576.31" y="434.6" width="1.3" height="6.4" class="tk"/><rect x="584.73" y="434.6" width="1.3" height="6.4" class="tk"/><rect x="593.15" y="434.6" width="1.3" height="8.8" class="tk"/><rect x="601.57" y="434.6" width="1.3" height="6.4" class="tk"/><rect x="609.99" y="434.6" width="1.3" height="6.4" class="tk"/><rect x="618.41" y="434.6" width="1.3" height="6.4" class="tk"/><rect x="626.83" y="434.6" width="1.3" height="6.4" class="tk"/><rect x="635.25" y="434.6" width="1.3" height="12.4" class="tk"/><rect x="643.67" y="434.6" width="1.3" height="6.4" class="tk"/><rect x="652.09" y="434.6" width="1.3" height="6.4" class="tk"/><rect x="660.51" y="434.6" width="1.3" height="6.4" class="tk"/><rect x="668.93" y="434.6" width="1.3" height="6.4" class="tk"/><rect x="677.35" y="434.6" width="1.3" height="8.8" class="tk"/><rect x="685.77" y="434.6" width="1.3" height="6.4" class="tk"/><rect x="694.19" y="434.6" width="1.3" height="6.4" class="tk"/><rect x="702.61" y="434.6" width="1.3" height="6.4" class="tk"/><rect x="711.03" y="434.6" width="1.3" height="6.4" class="tk"/><rect x="719.45" y="434.6" width="1.3" height="12.4" class="tk"/><rect x="727.87" y="434.6" width="1.3" height="6.4" class="tk"/><rect x="736.29" y="434.6" width="1.3" height="6.4" class="tk"/><rect x="744.71" y="434.6" width="1.3" height="6.4" class="tk"/><rect x="753.13" y="434.6" width="1.3" height="6.4" class="tk"/><rect x="761.55" y="434.6" width="1.3" height="8.8" class="tk"/><rect x="769.97" y="434.6" width="1.3" height="6.4" class="tk"/><rect x="778.39" y="434.6" width="1.3" height="6.4" class="tk"/><rect x="786.81" y="434.6" width="1.3" height="6.4" class="tk"/><rect x="795.23" y="434.6" width="1.3" height="6.4" class="tk"/><rect x="803.65" y="434.6" width="1.3" height="12.4" class="tk"/><rect x="812.07" y="434.6" width="1.3" height="6.4" class="tk"/><rect x="820.49" y="434.6" width="1.3" height="6.4" class="tk"/><rect x="828.91" y="434.6" width="1.3" height="6.4" class="tk"/><rect x="837.33" y="434.6" width="1.3" height="6.4" class="tk"/><rect x="845.75" y="434.6" width="1.3" height="8.8" class="tk"/><rect x="854.17" y="434.6" width="1.3" height="6.4" class="tk"/><rect x="862.59" y="434.6" width="1.3" height="6.4" class="tk"/><rect x="871.01" y="434.6" width="1.3" height="6.4" class="tk"/><rect x="879.43" y="434.6" width="1.3" height="6.4" class="tk"/><rect x="887.85" y="434.6" width="1.3" height="12.4" class="tk"/><rect x="896.27" y="434.6" width="1.3" height="6.4" class="tk"/>
<text class="al" transform="translate(46.2,464) scale(0.585,1)" text-anchor="middle">0</text><text class="al" transform="translate(130.4,464) scale(0.585,1)" text-anchor="middle">2</text><text class="al" transform="translate(214.6,464) scale(0.585,1)" text-anchor="middle">4</text><text class="al" transform="translate(298.8,464) scale(0.585,1)" text-anchor="middle">6</text><text class="al" transform="translate(383.0,464) scale(0.585,1)" text-anchor="middle">8</text><text class="al" transform="translate(467.2,464) scale(0.585,1)" text-anchor="middle">10</text><text class="al" transform="translate(551.4,464) scale(0.585,1)" text-anchor="middle">12</text><text class="al" transform="translate(635.6,464) scale(0.585,1)" text-anchor="middle">14</text><text class="al" transform="translate(719.8,464) scale(0.585,1)" text-anchor="middle">16</text><text class="al" transform="translate(804.0,464) scale(0.585,1)" text-anchor="middle">18</text><text class="al" transform="translate(898.6,464) scale(0.535,1)" text-anchor="end">keV</text>
<rect x="29.4" y="431.30" width="7.1" height="2.0" class="tk"/><text class="al" transform="translate(28.2,437.6) scale(0.585,1)" text-anchor="end">0</text><rect x="33.2" y="413.33" width="3.4" height="2.1" class="tk"/><rect x="33.2" y="395.41" width="3.4" height="2.1" class="tk"/><rect x="33.2" y="377.49" width="3.4" height="2.1" class="tk"/><rect x="33.2" y="359.57" width="3.4" height="2.1" class="tk"/><rect x="29.4" y="341.70" width="7.1" height="2.0" class="tk"/><text class="al" transform="translate(28.2,348.0) scale(0.585,1)" text-anchor="end">1</text><rect x="33.2" y="323.73" width="3.4" height="2.1" class="tk"/><rect x="33.2" y="305.81" width="3.4" height="2.1" class="tk"/><rect x="33.2" y="287.89" width="3.4" height="2.1" class="tk"/><rect x="33.2" y="269.97" width="3.4" height="2.1" class="tk"/><rect x="29.4" y="252.10" width="7.1" height="2.0" class="tk"/><text class="al" transform="translate(28.2,258.4) scale(0.585,1)" text-anchor="end">2</text><rect x="33.2" y="234.13" width="3.4" height="2.1" class="tk"/><rect x="33.2" y="216.21" width="3.4" height="2.1" class="tk"/><rect x="33.2" y="198.29" width="3.4" height="2.1" class="tk"/><rect x="33.2" y="180.37" width="3.4" height="2.1" class="tk"/><rect x="29.4" y="162.50" width="7.1" height="2.0" class="tk"/><text class="al" transform="translate(28.2,168.8) scale(0.585,1)" text-anchor="end">3</text><rect x="33.2" y="144.53" width="3.4" height="2.1" class="tk"/><rect x="33.2" y="126.61" width="3.4" height="2.1" class="tk"/><rect x="33.2" y="108.69" width="3.4" height="2.1" class="tk"/><rect x="33.2" y="90.77" width="3.4" height="2.1" class="tk"/><rect x="29.4" y="72.90" width="7.1" height="2.0" class="tk"/><text class="al" transform="translate(28.2,79.2) scale(0.585,1)" text-anchor="end">4</text><rect x="33.2" y="54.93" width="3.4" height="2.1" class="tk"/><rect x="33.2" y="37.01" width="3.4" height="2.1" class="tk"/><rect x="33.2" y="19.09" width="3.4" height="2.1" class="tk"/><rect x="33.2" y="1.17" width="3.4" height="2.1" class="tk"/>
<text class="al" style="font-size:14px" transform="translate(9.6,217.3) rotate(-90) scale(1,0.68)" text-anchor="middle">cps/eV</text>

<rect x="592" y="0" width="308" height="368.8" fill="#d6d8e6"/><rect x="593.2" y="1" width="306.79999999999995" height="367.8" fill="#ffff00"/><rect x="593.2" y="322.3" width="306.79999999999995" height="22.6" fill="#ffc000"/>
<text class="tt" transform="translate(654.3,20.1) scale(1.29,1)">Spectrum 1</text><text class="tt" transform="translate(761.3,20.1) scale(1.29,1)">Wt%</text><text class="tt" transform="translate(853,20.1) scale(1.29,1)">Atomic %</text>
<text class="tt" transform="translate(654.3,43.0) scale(1.29,1)">C</text><text class="tt" transform="translate(761.3,43.0) scale(1.235,1)">25.14</text><text class="tt" transform="translate(853,43.0) scale(1.235,1)">42.33</text>
<text class="tt" transform="translate(654.3,65.9) scale(1.29,1)">O</text><text class="tt" transform="translate(761.3,65.9) scale(1.235,1)">32.09</text><text class="tt" transform="translate(853,65.9) scale(1.235,1)">40.57</text>
<text class="tt" transform="translate(654.3,88.7) scale(1.29,1)">Mg</text><text class="tt" transform="translate(761.3,88.7) scale(1.235,1)">3.22</text><text class="tt" transform="translate(853,88.7) scale(1.235,1)">2.68</text>
<text class="tt" transform="translate(654.3,111.6) scale(1.29,1)">Al</text><text class="tt" transform="translate(761.3,111.6) scale(1.235,1)">0.62</text><text class="tt" transform="translate(853,111.6) scale(1.235,1)">0.47</text>
<text class="tt" transform="translate(654.3,134.5) scale(1.29,1)">Si</text><text class="tt" transform="translate(761.3,134.5) scale(1.235,1)">4.12</text><text class="tt" transform="translate(853,134.5) scale(1.235,1)">2.97</text>
<text class="tt" transform="translate(654.3,157.3) scale(1.29,1)">S</text><text class="tt" transform="translate(761.3,157.3) scale(1.235,1)">1.5</text><text class="tt" transform="translate(853,157.3) scale(1.235,1)">0.95</text>
<text class="tt" transform="translate(654.3,180.2) scale(1.29,1)">Cl</text><text class="tt" transform="translate(761.3,180.2) scale(1.235,1)">0.4</text><text class="tt" transform="translate(853,180.2) scale(1.235,1)">0.23</text>
<text class="tt" transform="translate(654.3,203.1) scale(1.29,1)">Ca</text><text class="tt" transform="translate(761.3,203.1) scale(1.235,1)">7.14</text><text class="tt" transform="translate(853,203.1) scale(1.235,1)">3.6</text>
<text class="tt" transform="translate(654.3,225.9) scale(1.29,1)">Ti</text><text class="tt" transform="translate(761.3,225.9) scale(1.235,1)">9</text><text class="tt" transform="translate(853,225.9) scale(1.235,1)">3.8</text>
<text class="tt" transform="translate(654.3,248.8) scale(1.29,1)">Fe</text><text class="tt" transform="translate(761.3,248.8) scale(1.235,1)">1.32</text><text class="tt" transform="translate(853,248.8) scale(1.235,1)">0.48</text>
<text class="tt" transform="translate(654.3,271.7) scale(1.29,1)">Cu</text><text class="tt" transform="translate(761.3,271.7) scale(1.235,1)">0.17</text><text class="tt" transform="translate(853,271.7) scale(1.235,1)">0.05</text>
<text class="tt" transform="translate(654.3,294.5) scale(1.29,1)">Ag</text><text class="tt" transform="translate(761.3,294.5) scale(1.235,1)">0.15</text><text class="tt" transform="translate(853,294.5) scale(1.235,1)">0.03</text>
<text class="tt" transform="translate(654.3,317.4) scale(1.29,1)">Ba</text><text class="tt" transform="translate(761.3,317.4) scale(1.235,1)">7.63</text><text class="tt" transform="translate(853,317.4) scale(1.235,1)">1.12</text>
<text class="tt pb" transform="translate(654.3,340.3) scale(1.29,1)">Pb</text><text class="tt pb" transform="translate(761.3,340.3) scale(1.235,1)">7.5</text><text class="tt pb" transform="translate(853,340.3) scale(1.235,1)">0.73</text>
<text class="tt" transform="translate(654.3,363.1) scale(1.29,1)">Total</text><text class="tt" transform="translate(761.3,363.1) scale(1.235,1)">100</text><text class="tt" transform="translate(853,363.1) scale(1.235,1)">100</text>

</g>
</svg>
</body></html>
